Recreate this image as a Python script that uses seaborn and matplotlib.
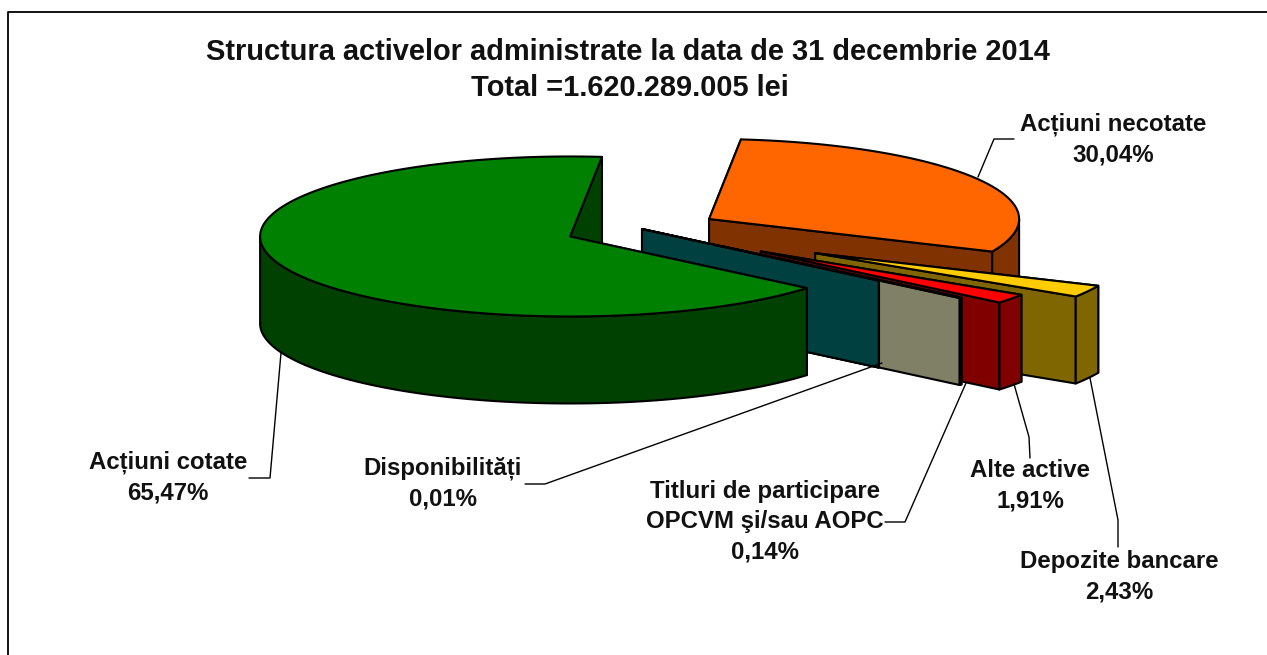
import numpy as np
import matplotlib
matplotlib.use("Agg")
import matplotlib.pyplot as plt
from matplotlib.patches import Polygon
import seaborn as sns

# ── Data ───────────────────────────────────────────────────
categories = ["Acțiuni necotate", "Depozite bancare", "Alte active",
              "Titluri de participare\nOPCVM şi/sau AOPC", "Disponibilități", "Acțiuni cotate"]
values = [30.04, 2.43, 1.91, 0.14, 0.01, 65.47]
title_lines = ["Structura activelor administrate la data de 31 decembrie 2014",
               "Total =1.620.289.005 lei"]

# ── Style ──────────────────────────────────────────────────
top_colors = sns.color_palette(["#FF6600", "#FFCC00", "#FF0000", "#FFFFCC", "#008080", "#008000"])
explode = [0.25, 0.635, 0.475, 0.34, 0.0, 0.25]

sns.set_theme(style="white")
plt.rcParams["font.family"] = ["Liberation Sans", "DejaVu Sans"]

CX, CY = 642, 229      # pie centre, in pixels
RX, RY = 310, 80       # ellipse radii
DEPTH = 87
START = 84.1           # slices run clockwise from here
EDGE = dict(edgecolor="black", linewidth=1.5, joinstyle="round")

# label centre (x, y of first line), leader polyline
label_pos = [(1113, 124), (1119, 561), (1030, 470), (765, 491), (443, 468), (168, 462)]
leaders = [
    [(978, 177), (994, 139), (1014, 139)],
    [(1090, 378), (1118, 520), (1118, 547)],
    [(1014, 384), (1029, 437), (1030, 458)],
    [(966, 383), (905, 522), (885, 522)],
    [(882, 363), (545, 484), (525, 484)],
    [(281, 353), (270, 478), (249, 478)],
]

fig = plt.figure(figsize=(12.67, 6.55), dpi=100)
ax = fig.add_axes([0, 0, 1, 1])
ax.set_xlim(0, 1267)
ax.set_ylim(655, 0)
ax.axis("off")


def outer(px, py, t):
    return np.column_stack([px + RX * np.cos(t), py - RY * np.sin(t)])


def draw_slice(value_from, value_to, exp, color):
    t0 = np.radians(value_from)
    t1 = np.radians(value_to)
    mid = (t0 + t1) / 2
    px = CX + exp * RX * np.cos(mid)
    py = CY - exp * RY * np.sin(mid)
    side = tuple(c * 0.5 for c in color)
    down = np.array([0, DEPTH])
    apex = np.array([px, py])

    # the two cut faces, back one first
    for t in (t0, t1):
        p = outer(px, py, np.array([t]))[0]
        ax.add_patch(Polygon([apex, p, p + down, apex + down], facecolor=side, **EDGE))

    # rim, only the part facing the viewer
    ts = np.linspace(t0, t1, 400)
    ts = ts[np.sin(ts) <= 0]
    if len(ts) > 1:
        rim = outer(px, py, ts)
        ax.add_patch(Polygon(np.vstack([rim, rim[::-1] + down]), facecolor=side, **EDGE))

    # top face
    arc = outer(px, py, np.linspace(t0, t1, 400))
    ax.add_patch(Polygon(np.vstack([apex, arc]), facecolor=color, **EDGE))


# ── Pie, back to front ─────────────────────────────────────
angle = START
for val, exp, col in zip(values, explode, top_colors):
    sweep = val / sum(values) * 360
    draw_slice(angle, angle - sweep, exp, col)
    angle -= sweep

# ── Labels and leader lines ────────────────────────────────
for cat, val, (lx, ly), pts in zip(categories, values, label_pos, leaders):
    xs, ys = zip(*pts)
    ax.plot(xs, ys, color="black", lw=1.0, zorder=5)
    txt = cat + "\n" + f"{val:.2f}".replace(".", ",") + "%"
    ax.text(lx, ly - 11, txt, ha="center", va="top", fontsize=17.3, fontweight="bold",
            color="#111111", linespacing=1.41, zorder=6)

ax.text(628, 52, title_lines[0], ha="center", va="center", fontsize=20.9, fontweight="bold", color="#111111")
ax.text(630, 88, title_lines[1], ha="center", va="center", fontsize=20.9, fontweight="bold", color="#111111")

# chart frame: only top and left are in the crop
ax.plot([1267, 8, 8], [12, 12, 655], color="black", lw=1.3)

fig.savefig("out.png", dpi=100)
